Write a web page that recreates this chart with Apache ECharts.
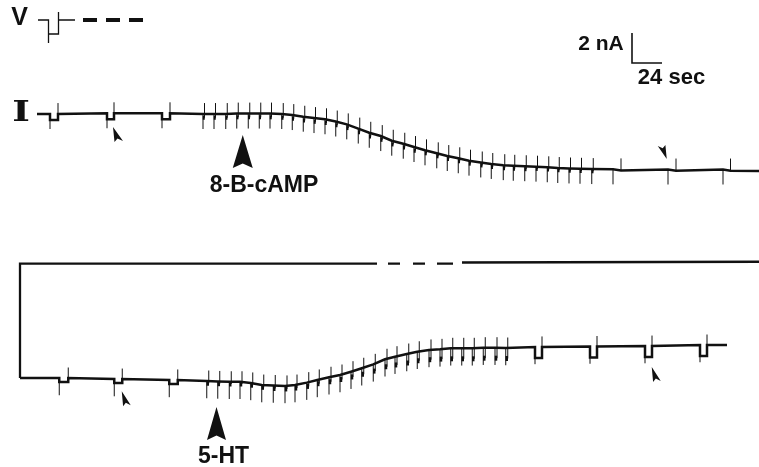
<!DOCTYPE html>
<html><head><meta charset="utf-8">
<script src="https://cdn.jsdelivr.net/npm/echarts@6/dist/echarts.min.js"></script>
<style>html,body{margin:0;padding:0;background:#fff}#c{width:759px;height:467px}</style>
</head><body><div id="c"></div>
<script>
// ---------- DATA (time in s, current in nA, voltage in arbitrary mV) ----------
// Voltage command trace
const vTrace = [[30.4,0],[38.8,0],[38.8,-23],[38.8,-14],[46.8,-14],[46.8,8],[46.8,0],[60,0]];
const vDashed = [[66.4,0],[115.2,0]];

// Upper current record (8-B-cAMP)
const topStart = [29.6, 0];
const topEnd = [607.2, -3.8];
// long test pulses
const topSlowT = [40, 85.6, 129.6, 490.4, 534.4, 578.4];
const topSlowBase = [0, 0.05, 0.05, -3.69, -3.7, -3.7];
const topSlowStep = [0.4, 0.4, 0.4, 0.08, 0.08, 0.08];
const topSlowWidth = [6.4, 5.6, 6.4, 6.4, 6.4, 6.0];
// brief test pulses
const topFastT = [162.4, 171.2, 180.6, 189.4, 198.6, 207.4, 216, 225.4, 233.8, 242.6,
  251.2, 260, 268.6, 277.4, 286.6, 295.4, 304.6, 313.4, 322.6, 331.2,
  340, 349.4, 357.8, 366.6, 375.2, 384.6, 393, 402.6, 410.6, 419.8,
  428.8, 437.8, 446.2, 455.2, 464, 473.4];
const topFastBase = [0, 0, 0, 0.03, 0.03, 0.03, 0.03, 0, -0.07, -0.18,
  -0.27, -0.35, -0.5, -0.69, -0.97, -1.25, -1.47, -1.78, -1.98, -2.2,
  -2.42, -2.62, -2.8, -2.95, -3.11, -3.23, -3.33, -3.41, -3.45, -3.48,
  -3.51, -3.55, -3.6, -3.63, -3.65, -3.67];
const topFastStep = [0.25, 0.25, 0.25, 0.25, 0.25, 0.25, 0.25, 0.25, 0.25, 0.25,
  0.25, 0.25, 0.25, 0.25, 0.25, 0.25, 0.25, 0.25, 0.25, 0.25,
  0.2, 0.2, 0.2, 0.2, 0.2, 0.2, 0.2, 0.2, 0.2, 0.2,
  0.15, 0.15, 0.15, 0.15, 0.15, 0.15];
const topFastWidth = 1.2;
const topSpikeUp = 0.73, topSpikeDown = 1.0;

// Lower current record (5-HT)
const botFrame = [[16,0],[16,7.63],[301.6,7.63],[301.6,null],[310.4,7.63],[320,7.63],[320,null],
  [330.4,7.63],[340,7.63],[340,null],[349.6,7.63],[362.4,7.63],[362.4,null],[369.6,7.7],[607.2,7.75]];
const botStart = [16, 0];
const botEnd = [581.6, 2.2];
const botSlowT = [47.4, 91.4, 135.4, 428, 472, 516, 560];
const botSlowBase = [0, -0.07, -0.13, 2.07, 2.1, 2.13, 2.2];
const botSlowStep = [0.27, 0.27, 0.27, 0.73, 0.73, 0.73, 0.73];
const botSlowWidth = [7.2, 6.4, 6.8, 5.6, 5.6, 5.6, 5.6];
const botFastT = [165.4, 174.2, 183.4, 192, 200.6, 209.4, 218.6, 228, 236, 245.4,
  253.8, 263.2, 272, 280.8, 289.4, 298.6, 308, 316, 325.4, 333.8,
  343.2, 352, 360.6, 369.4, 377.8, 386.6, 396, 404.6];
const botFastBase = [-0.2, -0.23, -0.25, -0.25, -0.33, -0.47, -0.5, -0.53, -0.47, -0.31,
  -0.13, 0.05, 0.2, 0.42, 0.65, 0.91, 1.25, 1.42, 1.6, 1.75,
  1.87, 1.91, 1.98, 1.98, 1.98, 2.02, 2.02, 2.0];
const botFastStep = [0.15, 0.15, 0.15, 0.15, 0.15, 0.15, 0.2, 0.2, 0.2, 0.25,
  0.25, 0.3, 0.3, 0.35, 0.4, 0.45, 0.5, 0.55, 0.6, 0.6,
  0.65, 0.65, 0.7, 0.7, 0.7, 0.7, 0.7, 0.7];
const botFastWidth = 1.6;
const botSpikeUp = 0.7, botSpikeDown = 1.15;

// Scale bar (2 nA x 24 s) in upper-record units
const scaleBar = [[505.6, 5.4], [505.6, 3.4], [529.6, 3.4]];

// Annotation arrows
const topBigArrow = [[194.2, -2.5]];
const botBigArrow = [[173.2, -3.03]];
const topSmallArrow = [[94.4, -1.37]];
const topSmallArrowDown = [[529.8, -2.53]];
const botSmallArrow = [[101, -1.38], [525, 0.23]];

// ---------- BUILD ----------
function buildTrace(start, end, slow, fast) {
  const ev = [];
  slow.T.forEach((t, i) => ev.push({ t, pts: [[t, slow.B[i]], [t, slow.B[i] - slow.S[i]],
    [t + slow.W[i], slow.B[i] - slow.S[i]], [t + slow.W[i], slow.B[i]]] }));
  fast.T.forEach((t, i) => ev.push({ t, pts: [[t, fast.B[i]], [t + fast.W, fast.B[i]]] }));
  ev.sort((a, b) => a.t - b.t);
  const pts = [start];
  ev.forEach(e => pts.push(...e.pts));
  pts.push(end);
  return pts;
}
function buildSpikes(slow, fast, up, down) {
  const pts = [];
  const add = (t, b, s, w) => pts.push([t, b], [t, b - down], [t, null],
    [t + w, b - s], [t + w, b + up], [t + w, null]);
  slow.T.forEach((t, i) => add(t, slow.B[i], slow.S[i], slow.W[i]));
  fast.T.forEach((t, i) => add(t, fast.B[i], fast.S[i], fast.W));
  return pts;
}
function stepMarks(fast) {
  return fast.T.map((t, i) => [t + fast.W / 2, fast.B[i] - fast.S[i]]);
}

const topSlow = { T: topSlowT, B: topSlowBase, S: topSlowStep, W: topSlowWidth };
const topFast = { T: topFastT, B: topFastBase, S: topFastStep, W: topFastWidth };
const botSlow = { T: botSlowT, B: botSlowBase, S: botSlowStep, W: botSlowWidth };
const botFast = { T: botFastT, B: botFastBase, S: botFastStep, W: botFastWidth };

const INK = '#111';
const BIG = 'path://M10,0 L20,33 L10,28.5 L0,33 Z';
const SMALL = 'path://M0,0 L1.5,15 L4.5,11.5 L10,14 Z';
const FONT = "bold 23px 'Liberation Sans', Arial, sans-serif";

function line(data, xi, width, extra) {
  return Object.assign({
    type: 'line', xAxisIndex: xi, yAxisIndex: xi, data: data, showSymbol: false,
    symbol: 'none', silent: true, animation: false, connectNulls: false,
    lineStyle: { color: INK, width: width, cap: 'butt', join: 'miter' }
  }, extra || {});
}
function marks(data, xi, sym, size, rot) {
  return { type: 'scatter', xAxisIndex: xi, yAxisIndex: xi, data: data, symbol: sym,
    symbolSize: size, symbolRotate: rot || 0, silent: true, animation: false,
    itemStyle: { color: INK, opacity: 1 } };
}

const chart = echarts.init(document.getElementById('c'), null, { renderer: 'canvas' });
const ax = (i) => ({ gridIndex: i, type: 'value', min: 0, max: 607.2, show: false });
chart.setOption({
  backgroundColor: '#fff',
  animation: false,
  grid: [
    { left: 0, top: 0, width: 759, height: 60 },
    { left: 0, top: 0, width: 759, height: 234 },
    { left: 0, top: 234, width: 759, height: 233 }
  ],
  xAxis: [ax(0), ax(1), ax(2)],
  yAxis: [
    { gridIndex: 0, type: 'value', min: -40, max: 20, show: false },
    { gridIndex: 1, type: 'value', min: -8, max: 7.6, show: false },
    { gridIndex: 2, type: 'value', min: -5.9333, max: 9.6, show: false }
  ],
  series: [
    line(vTrace, 0, 1.3),
    line(vDashed, 0, 4, { lineStyle: { color: INK, width: 4, type: [14, 9] } }),
    line(buildTrace(topStart, topEnd, topSlow, topFast), 1, 2.5),
    line(buildSpikes(topSlow, topFast, topSpikeUp, topSpikeDown), 1, 1),
    marks(stepMarks(topFast), 1, 'rect', [2, 4]),
    line(scaleBar, 1, 1.6),
    line(botFrame, 2, 2.3),
    line(buildTrace(botStart, botEnd, botSlow, botFast), 2, 2.5),
    line(buildSpikes(botSlow, botFast, botSpikeUp, botSpikeDown), 2, 1),
    marks(stepMarks(botFast), 2, 'rect', [2.5, 5]),
    marks(topBigArrow, 1, BIG, [20, 33]),
    marks(botBigArrow, 2, BIG, [19, 33]),
    marks(topSmallArrow, 1, SMALL, [10, 15]),
    marks(botSmallArrow, 2, SMALL, [9, 15]),
    marks(topSmallArrowDown, 1, SMALL, [9, 14], 180)
  ],
  graphic: [
    { type: 'text', x: 19.5, y: 18.5, style: { text: 'V', font: "bold 25px 'Liberation Sans', Arial, sans-serif", fill: INK, textAlign: 'center', textVerticalAlign: 'middle' } },
    { type: 'text', x: 21, y: 114, scaleX: 1.4, style: { text: 'I', font: "bold 27px 'DejaVu Serif', serif", fill: INK, textAlign: 'center', textVerticalAlign: 'middle' } },
    { type: 'text', x: 601, y: 44, style: { text: '2 nA', font: "bold 21px 'Liberation Sans', Arial, sans-serif", fill: INK, textAlign: 'center', textVerticalAlign: 'middle' } },
    { type: 'text', x: 671.5, y: 78, style: { text: '24 sec', font: "bold 22px 'Liberation Sans', Arial, sans-serif", fill: INK, textAlign: 'center', textVerticalAlign: 'middle' } },
    { type: 'text', x: 264, y: 186, style: { text: '8-B-cAMP', font: FONT, fill: INK, textAlign: 'center', textVerticalAlign: 'middle' } },
    { type: 'text', x: 223.5, y: 457, style: { text: '5-HT', font: FONT, fill: INK, textAlign: 'center', textVerticalAlign: 'middle' } }
  ]
});
</script></body></html>
